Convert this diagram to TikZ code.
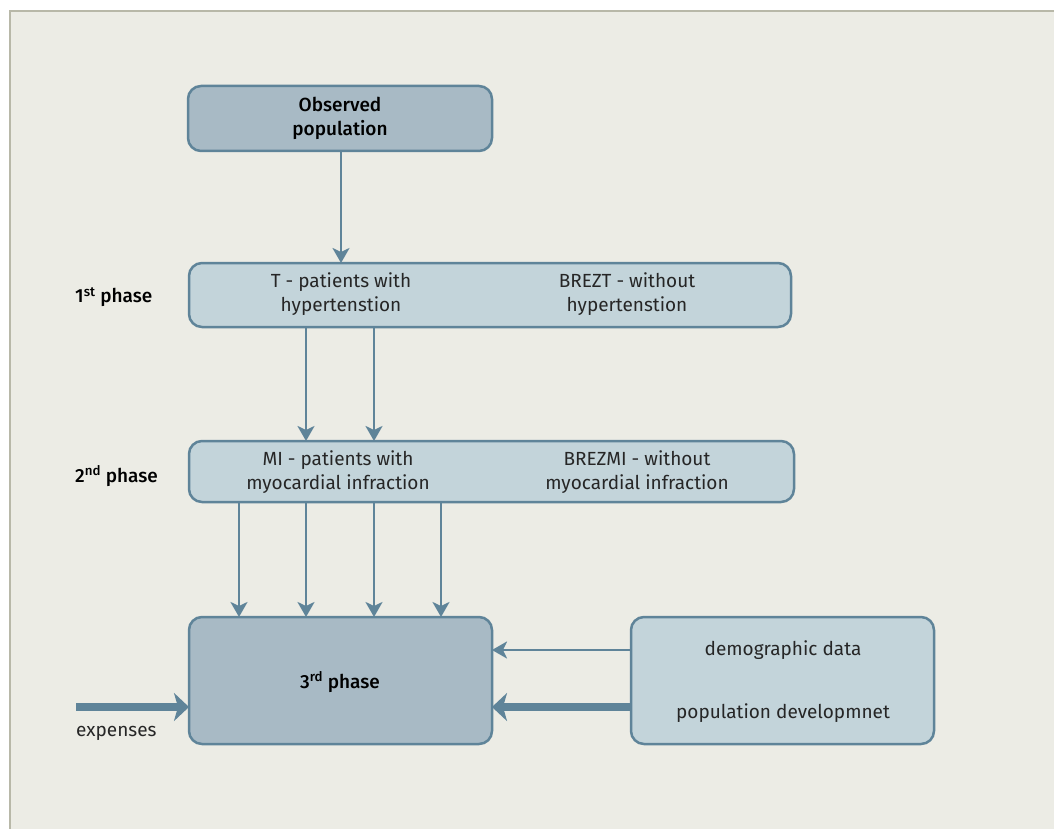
\documentclass[tikz,border=0pt]{standalone}
\usepackage{fontspec}
\setmainfont{Fira Sans}
\newfontfamily\medfont{Fira Sans Medium}
\usetikzlibrary{arrows.meta}
\definecolor{bg}{HTML}{ECECE5}
\definecolor{frame}{HTML}{B8B8A8}
\definecolor{edge}{HTML}{5F8499}
\definecolor{darkfill}{HTML}{A8BAC5}
\definecolor{lightfill}{HTML}{C3D4DA}
\tikzset{
  boxdark/.style={draw=edge,line width=2.5pt,fill=darkfill,rounded corners=13pt},
  boxlight/.style={draw=edge,line width=2.5pt,fill=lightfill,rounded corners=13pt},
  txt/.style={font=\fontsize{19}{24}\selectfont,align=center,text=black!85,inner sep=0pt},
  btxt/.style={font=\fontsize{19}{24}\selectfont\medfont,align=center,text=black,inner sep=0pt},
  thinarrow/.style={draw=edge,line width=2.5pt,-{Stealth[length=15pt,width=17pt,inset=4pt]}},
  thickarrow/.style={draw=edge,line width=8pt,-{Stealth[length=15pt,width=28pt,inset=4pt]}},
}
\begin{document}
\begin{tikzpicture}[x=1pt,y=-1pt]
\useasboundingbox (0,0) rectangle (1054,829);
\fill[white] (0,0) rectangle (1054,829);
\fill[bg] (10,10) rectangle (1054,829);
\draw[frame,line width=2pt] (10,829) -- (10,11) -- (1054,11);
% boxes
\draw[boxdark] (188,86) rectangle (492,151);
\node[btxt] (obs) at (340,118.5) {Observed\\population};
\coordinate (obsB) at (341,151);
\draw[boxlight] (189,263) rectangle (791,327);
\node[txt] (t) at (341,294) {T - patients with\\hypertenstion};
\node[txt] (brezt) at (627,294) {BREZT - without\\hypertenstion};
\draw[boxlight] (189,441) rectangle (794,502);
\node[txt] (mi) at (338,472) {MI - patients with\\myocardial infraction};
\node[txt] (brezmi) at (637,472) {BREZMI - without\\myocardial infraction};
\draw[boxdark] (189,617) rectangle (492,744);
\node[btxt] (p3) at (340,682) {3\textsuperscript{rd} phase};
\draw[boxlight] (631,617) rectangle (934,744);
\node[txt] (demo) at (783,650) {demographic data};
\node[txt] (popdev) at (783,713) {population developmnet};
% phase labels
\node[btxt,anchor=west] (ph1) at (75,297) {1\textsuperscript{st} phase};
\node[btxt,anchor=west] (ph2) at (75,476) {2\textsuperscript{nd} phase};
\node[txt,anchor=north west] (exp) at (76,726) {expenses};
% coordinates for arrows
\coordinate (p1top) at (341,263);
\foreach \x/\n in {306/a,374/b}{
  \coordinate (p1b\n) at (\x,327);
  \coordinate (p2t\n) at (\x,441);
}
\foreach \x/\n in {239/a,306/b,374/c,441/d}{
  \coordinate (p2b\n) at (\x,502);
  \coordinate (p3t\n) at (\x,617);
}
\coordinate (demoL) at (631,650);
\coordinate (p3R1) at (492,650);
\coordinate (popL) at (631,707);
\coordinate (p3R2) at (492,707);
\coordinate (expS) at (76,707);
\coordinate (p3L) at (189,707);
% arrows
\draw[thinarrow] (obsB) -- (p1top);
\foreach \n in {a,b}{\draw[thinarrow] (p1b\n) -- (p2t\n);}
\foreach \n in {a,b,c,d}{\draw[thinarrow] (p2b\n) -- (p3t\n);}
\draw[thinarrow] (demoL) -- (p3R1);
\draw[thickarrow] (popL) -- (p3R2);
\draw[thickarrow] (expS) -- (p3L);
\end{tikzpicture}
\end{document}
